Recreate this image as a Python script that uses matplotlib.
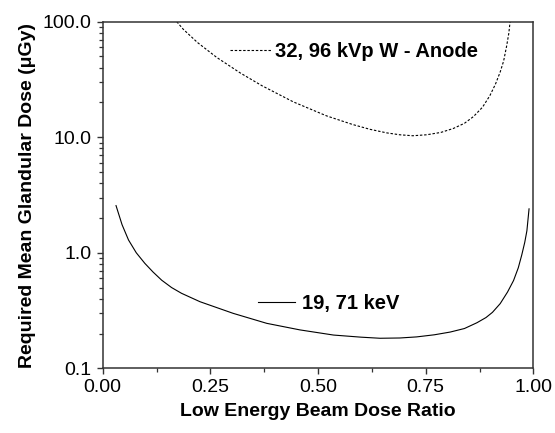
import numpy as np
import matplotlib
matplotlib.use("Agg")
import matplotlib.pyplot as plt
from matplotlib.ticker import FixedLocator, FixedFormatter, LogLocator, NullFormatter

# values
mono_ratio = [0.031, 0.045, 0.060, 0.078, 0.098, 0.117, 0.137, 0.160, 0.183, 0.226,
              0.303, 0.381, 0.458, 0.536, 0.600, 0.644, 0.690, 0.729, 0.770, 0.807,
              0.840, 0.869, 0.890, 0.905, 0.923, 0.940, 0.954, 0.965, 0.973, 0.980,
              0.985, 0.990]
mono_dose = [2.56, 1.75, 1.29, 1.00, 0.809, 0.681, 0.579, 0.500, 0.446, 0.377,
             0.299, 0.245, 0.215, 0.194, 0.186, 0.182, 0.183, 0.187, 0.195, 0.206,
             0.221, 0.248, 0.275, 0.305, 0.363, 0.457, 0.575, 0.741, 0.955, 1.23,
             1.55, 2.40]

tube_ratio = [0.172, 0.187, 0.220, 0.265, 0.320, 0.370, 0.443, 0.520, 0.580, 0.621,
              0.660, 0.690, 0.720, 0.752, 0.785, 0.814, 0.840, 0.861, 0.882, 0.899,
              0.912, 0.923, 0.931, 0.938, 0.943, 0.946]
tube_dose = [100.0, 86.1, 66.1, 49.0, 35.9, 27.9, 20.2, 15.3, 12.9, 11.7,
             10.9, 10.5, 10.3, 10.5, 11.0, 11.9, 13.2, 15.1, 18.2, 22.9,
             28.8, 36.7, 45.7, 61.7, 79.4, 100.0]

x_ticks = [0.0, 0.25, 0.5, 0.75, 1.0]
x_labels = ["0.00", "0.25", "0.50", "0.75", "1.00"]
y_ticks = [0.1, 1.0, 10.0, 100.0]
y_labels = ["0.1", "1.0", "10.0", "100.0"]

plt.rcParams["font.family"] = ["Liberation Sans", "DejaVu Sans"]
spine_col = "#333333"

fig = plt.figure(figsize=(5.55, 4.33), dpi=100)
ax = fig.add_axes([0.185, 0.1494, 0.776, 0.8005])

dash_line, = ax.plot(tube_ratio, tube_dose, color="black", lw=0.8, ls=(0, (2.2, 1.6)))
solid_line, = ax.plot(mono_ratio, mono_dose, color="black", lw=0.8)

ax.set_yscale("log")
ax.set_xlim(0, 1)
ax.set_ylim(0.1, 100)

ax.xaxis.set_major_locator(FixedLocator(x_ticks))
ax.xaxis.set_major_formatter(FixedFormatter(x_labels))
ax.xaxis.set_minor_locator(FixedLocator([0.125, 0.375, 0.625, 0.875]))
ax.yaxis.set_major_locator(FixedLocator(y_ticks))
ax.yaxis.set_major_formatter(FixedFormatter(y_labels))
ax.yaxis.set_minor_locator(LogLocator(base=10, subs=np.arange(2, 10)))
ax.yaxis.set_minor_formatter(NullFormatter())

for s in ax.spines.values():
    s.set_linewidth(1.1)
    s.set_color(spine_col)
ax.tick_params(which="major", direction="out", length=4.5, width=1.0, color=spine_col,
               labelsize=14, pad=3.5, top=False, right=False)
ax.tick_params(which="minor", direction="out", length=2.8, width=0.9, color=spine_col,
               top=False, right=False)

ax.set_xlabel("Low Energy Beam Dose Ratio", fontsize=14, fontweight="bold", labelpad=5)
ax.set_ylabel("Required Mean Glandular Dose (\u03bcGy)", fontsize=14, fontweight="bold", labelpad=5)

leg1 = ax.legend([dash_line], ["32, 96 kVp W - Anode"], loc="center left",
                 bbox_to_anchor=(0.296, 0.915), frameon=False, borderpad=0, borderaxespad=0,
                 handlelength=2.1, handletextpad=0.15, prop={"size": 14.5, "weight": "bold"})
ax.add_artist(leg1)
ax.legend([solid_line], ["19, 71 keV"], loc="center left",
          bbox_to_anchor=(0.361, 0.1875), frameon=False, borderpad=0, borderaxespad=0,
          handlelength=1.85, handletextpad=0.33, prop={"size": 14.5, "weight": "bold"})

fig.savefig("out.png", dpi=100)
